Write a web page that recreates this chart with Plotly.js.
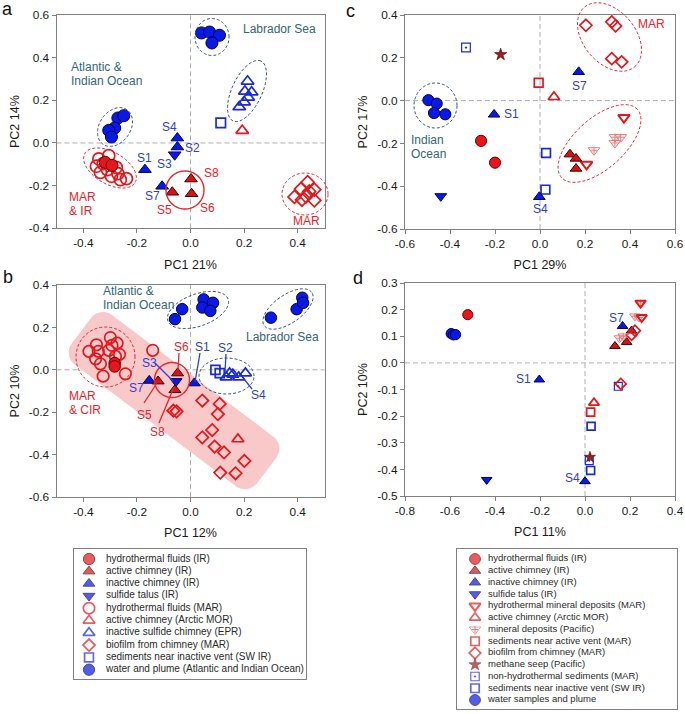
<!DOCTYPE html>
<html><head><meta charset="utf-8">
<script src="https://cdn.plot.ly/plotly-3.0.1.min.js"></script>
<style>html,body{margin:0;padding:0;background:#fff}#chart{width:685px;height:714px}</style>
</head><body><div id="chart"></div>
<script>
const W = 685, H = 714;
const FONT = 'Liberation Sans, Arial, Helvetica, sans-serif';

// ---------------- DATA : panel a ----------------
const a_fluidsIR_x = [-0.318, -0.293];
const a_fluidsIR_y = [-0.091, -0.105];
const a_activeIR_x = [0.002, -0.068, 0.004];
const a_activeIR_y = [-0.169, -0.231, -0.238];
const a_inactiveIR_x = [-0.049, -0.049, -0.170, -0.106];
const a_inactiveIR_y = [0.023, -0.019, -0.125, -0.203];
const a_talusIR_x = [-0.059];
const a_talusIR_y = [-0.055];
const a_fluidsMAR_x = [-0.342, -0.305, -0.351, -0.326, -0.310, -0.277, -0.336, -0.295, -0.262, -0.239, -0.271];
const a_fluidsMAR_y = [-0.075, -0.059, -0.109, -0.097, -0.125, -0.114, -0.138, -0.156, -0.172, -0.167, -0.144];
const a_activeArctic_x = [0.193];
const a_activeArctic_y = [0.058];
const a_inactiveEPR_x = [0.213, 0.203, 0.228, 0.215, 0.200, 0.182];
const a_inactiveEPR_y = [0.289, 0.242, 0.238, 0.214, 0.192, 0.169];
const a_biofilm_x = [0.437, 0.412, 0.462, 0.388, 0.431, 0.462, 0.416, 0.443];
const a_biofilm_y = [-0.184, -0.216, -0.219, -0.253, -0.250, -0.269, -0.266, -0.227];
const a_sedInactive_x = [0.113];
const a_sedInactive_y = [0.094];
const a_water_x = [0.041, 0.071, 0.108, 0.080, -0.271, -0.249, -0.283, -0.305, -0.295];
const a_water_y = [0.516, 0.520, 0.505, 0.469, 0.117, 0.128, 0.070, 0.059, 0.028];

// ---------------- DATA : panel b ----------------
const b_fluidsIR_x = [-0.283, -0.283];
const b_fluidsIR_y = [0.032, 0.016];
const b_activeIR_x = [-0.121, -0.048, -0.058];
const b_activeIR_y = [-0.054, -0.016, -0.095];
const b_inactiveIR_x = [-0.154, 0.014];
const b_inactiveIR_y = [-0.051, -0.063];
const b_talusIR_x = [-0.054];
const b_talusIR_y = [-0.054];
const b_fluidsMAR_x = [-0.379, -0.351, -0.299, -0.274, -0.305, -0.344, -0.354, -0.336, -0.280, -0.265, -0.243, -0.326, -0.293, -0.141];
const b_fluidsMAR_y = [0.087, 0.118, 0.152, 0.126, 0.092, 0.087, 0.052, 0.028, 0.063, 0.073, -0.019, -0.030, 0.115, 0.092];
const b_activeArctic_x = [0.177];
const b_activeArctic_y = [-0.327];
const b_inactiveEPR_x = [0.133, 0.158, 0.180, 0.205, 0.146];
const b_inactiveEPR_y = [-0.035, -0.022, -0.035, -0.016, -0.016];
const b_biofilm_x = [0.044, 0.109, 0.102, -0.064, -0.052, 0.081, 0.044, 0.090, 0.125, 0.201, 0.111, 0.168];
const b_biofilm_y = [-0.145, -0.161, -0.209, -0.193, -0.196, -0.284, -0.319, -0.362, -0.390, -0.430, -0.485, -0.488];
const b_sedInactive_x = [0.093, 0.109];
const b_sedInactive_y = [0.000, -0.016];
const b_water_x = [-0.031, -0.058, 0.049, 0.084, 0.044, 0.074, 0.300, 0.396, 0.417, 0.420];
const b_water_y = [0.286, 0.239, 0.332, 0.316, 0.294, 0.278, 0.246, 0.286, 0.340, 0.316];

// ---------------- DATA : panel c ----------------
const c_fluidsIR_x = [-0.262, -0.200];
const c_fluidsIR_y = [-0.188, -0.290];
const c_activeIR_x = [0.133, 0.160, 0.160];
const c_activeIR_y = [-0.251, -0.271, -0.318];
const c_inactiveIR_x = [-0.204, 0.172, -0.003];
const c_inactiveIR_y = [-0.065, 0.134, -0.450];
const c_talusIR_x = [-0.441];
const c_talusIR_y = [-0.447];
const c_mineralMAR_x = [0.207, 0.373];
const c_mineralMAR_y = [-0.298, -0.079];
const c_activeArctic_x = [0.062];
const c_activeArctic_y = [0.017];
const c_mineralPac_x = [0.240, 0.333, 0.359, 0.333];
const c_mineralPac_y = [-0.232, -0.171, -0.171, -0.198];
const c_sedActive_x = [-0.006];
const c_sedActive_y = [0.083];
const c_biofilm_x = [0.204, 0.319, 0.336, 0.319, 0.363];
const c_biofilm_y = [0.352, 0.368, 0.349, 0.196, 0.181];
const c_seep_x = [-0.175];
const c_seep_y = [0.215];
const c_nonHydro_x = [-0.329];
const c_nonHydro_y = [0.248];
const c_sedInactive_x = [0.027, 0.024];
const c_sedInactive_y = [-0.245, -0.416];
const c_water_x = [-0.496, -0.459, -0.471, -0.421];
const c_water_y = [0.002, -0.014, -0.058, -0.064];

// ---------------- DATA : panel d ----------------
const d_fluidsIR_x = [-0.521];
const d_fluidsIR_y = [0.181];
const d_activeIR_x = [0.133, 0.185, 0.207];
const d_activeIR_y = [0.063, 0.078, 0.121];
const d_inactiveIR_x = [-0.203, 0.167, 0.000];
const d_inactiveIR_y = [-0.063, 0.138, -0.445];
const d_talusIR_x = [-0.437];
const d_talusIR_y = [-0.439];
const d_mineralMAR_x = [0.252, 0.247];
const d_mineralMAR_y = [0.171, 0.225];
const d_activeArctic_x = [0.040];
const d_activeArctic_y = [-0.150];
const d_mineralPac_x = [0.247, 0.240, 0.222, 0.153, 0.170];
const d_mineralPac_y = [0.225, 0.171, 0.175, 0.093, 0.100];
const d_sedActive_x = [0.025];
const d_sedActive_y = [-0.185];
const d_biofilm_x = [0.159, 0.222, 0.207];
const d_biofilm_y = [-0.079, 0.121, 0.105];
const d_seep_x = [0.022];
const d_seep_y = [-0.354];
const d_nonHydro_x = [0.148, 0.019];
const d_nonHydro_y = [-0.088, -0.367];
const d_sedInactive_x = [0.027, 0.025];
const d_sedInactive_y = [-0.238, -0.404];
const d_water_x = [-0.595, -0.585, -0.575];
const d_water_y = [0.110, 0.105, 0.106];

// ---------------- ticks / titles ----------------
const a_xticks = [-0.4, -0.2, 0, 0.2, 0.4];
const a_yticks = [-0.4, -0.2, 0, 0.2, 0.4, 0.6];
const b_xticks = [-0.4, -0.2, 0, 0.2, 0.4];
const b_yticks = [-0.6, -0.4, -0.2, 0, 0.2, 0.4];
const c_xticks = [-0.6, -0.4, -0.2, 0, 0.2, 0.4, 0.6];
const c_yticks = [-0.6, -0.4, -0.2, 0, 0.2, 0.4];
const d_xticks = [-0.8, -0.6, -0.4, -0.2, 0, 0.2, 0.4];
const d_yticks = [-0.5, -0.4, -0.3, -0.2, -0.1, 0, 0.1, 0.2, 0.3];
const xTitles = ['PC1 21%', 'PC1 12%', 'PC1 29%', 'PC1 11%'];
const yTitles = ['PC2 14%', 'PC2 10%', 'PC2 17%', 'PC2 10%'];

// ---------------- legends ----------------
const legendAB_keys = ['fluidsIR','activeIR','inactiveIR','talusIR','fluidsMAR','activeArctic','inactiveEPR','biofilm','sedInactive','water'];
const legendAB_labels = ['hydrothermal fluids (IR)','active chimney (IR)','inactive chimney (IR)','sulfide talus (IR)','hydrothermal fluids (MAR)','active chimney (Arctic MOR)','inactive sulfide chimney (EPR)','biofilm from chimney (MAR)','sediments near inactive vent (SW IR)','water and plume (Atlantic and Indian Ocean)'];
const legendCD_keys = ['fluidsIR','activeIR','inactiveIR','talusIR','mineralMAR','activeArctic','mineralPac','sedActive','biofilm','seep','nonHydro','sedInactive','water'];
const legendCD_labels = ['hydrothermal fluids (IR)','active chimney (IR)','inactive chimney (IR)','sulfide talus (IR)','hydrothermal mineral deposits (MAR)','active chimney (Arctic MOR)','mineral deposits (Pacific)','sediments near active vent (MAR)','biofilm from chimney (MAR)','methane seep (Pacific)','non-hydrothermal sediments (MAR)','sediments near inactive vent (SW IR)','water samples and plume'];

// ---------------- styles ----------------
const RED = '#e5161d', RED_D = '#6a0000', BLUE = '#0a1ae2', BLUE_D = '#00005c';
const REDO = '#e3171e', BLUEO = '#1a2bd6', PINKO = '#ee7878', STARC = '#a31c1c';
const TEAL = '#346679', REDT = '#e8242c', BLUET = '#2d3fd4';
const STYLE = {
  fluidsIR:     {symbol:'circle', shape:'circle', color:RED, lc:RED_D, lw:1},
  activeIR:     {symbol:'triangle-up', shape:'tri', color:'#d5131a', lc:'#3c0000', lw:1},
  inactiveIR:   {symbol:'triangle-up', shape:'tri', color:BLUE, lc:BLUE_D, lw:1},
  talusIR:      {symbol:'triangle-down', shape:'tri', color:BLUE, lc:BLUE_D, lw:1},
  fluidsMAR:    {symbol:'circle-open', shape:'circle', color:REDO, lc:REDO, lw:1.7},
  activeArctic: {symbol:'triangle-up-open', shape:'tri', color:REDO, lc:REDO, lw:1.7},
  inactiveEPR:  {symbol:'triangle-up-open', shape:'tri', color:BLUEO, lc:BLUEO, lw:1.7},
  biofilm:      {symbol:'diamond-open', shape:'diamond', color:REDO, lc:REDO, lw:1.7},
  sedInactive:  {symbol:'square-open', shape:'square', color:BLUEO, lc:BLUEO, lw:1.7},
  water:        {symbol:'circle', shape:'circle', color:BLUE, lc:BLUE_D, lw:1},
  mineralMAR:   {symbol:'triangle-down-open', shape:'tri', color:REDO, lc:REDO, lw:2},
  mineralPac:   {symbol:'triangle-down-open', shape:'tri', color:PINKO, lc:PINKO, lw:1},
  sedActive:    {symbol:'square-open', shape:'square', color:REDO, lc:REDO, lw:1.7},
  seep:         {symbol:'star', shape:'star', color:STARC, lc:'#4a0000', lw:0.6},
  nonHydro:     {symbol:'square-open-dot', shape:'square', color:BLUEO, lc:BLUEO, lw:1.2}
};
const BASE = {circle:11.5, tri:10.5, diamond:9.5, square:9, star:9.5};

// ---------------- panel geometry (pixels) ----------------
const PANELS = {
  a:{xa:'x',  ya:'y',  px:[56.5,324.5], py:[15,228.3], xr:[-0.5,0.5], yr:[-0.4,0.6], xt:a_xticks, yt:a_yticks, scale:1.05},
  b:{xa:'x2', ya:'y2', px:[56.5,324.5], py:[285,497],  xr:[-0.5,0.5], yr:[-0.6,0.4], xt:b_xticks, yt:b_yticks, scale:1.0},
  c:{xa:'x3', ya:'y3', px:[405,675],    py:[15,229],   xr:[-0.6,0.6], yr:[-0.6,0.4], xt:c_xticks, yt:c_yticks, scale:0.97},
  d:{xa:'x4', ya:'y4', px:[405,675],    py:[283,496],  xr:[-0.8,0.4], yr:[-0.5,0.3], xt:d_xticks, yt:d_yticks, scale:0.88}
};
const SERIES = {
  a: [['water',a_water_x,a_water_y],['fluidsMAR',a_fluidsMAR_x,a_fluidsMAR_y],['fluidsIR',a_fluidsIR_x,a_fluidsIR_y],['inactiveEPR',a_inactiveEPR_x,a_inactiveEPR_y],['sedInactive',a_sedInactive_x,a_sedInactive_y],['activeArctic',a_activeArctic_x,a_activeArctic_y],['biofilm',a_biofilm_x,a_biofilm_y],['inactiveIR',a_inactiveIR_x,a_inactiveIR_y],['talusIR',a_talusIR_x,a_talusIR_y],['activeIR',a_activeIR_x,a_activeIR_y]],
  b: [['water',b_water_x,b_water_y],['fluidsMAR',b_fluidsMAR_x,b_fluidsMAR_y],['fluidsIR',b_fluidsIR_x,b_fluidsIR_y],['inactiveEPR',b_inactiveEPR_x,b_inactiveEPR_y],['sedInactive',b_sedInactive_x,b_sedInactive_y],['activeArctic',b_activeArctic_x,b_activeArctic_y],['biofilm',b_biofilm_x,b_biofilm_y],['inactiveIR',b_inactiveIR_x,b_inactiveIR_y],['talusIR',b_talusIR_x,b_talusIR_y],['activeIR',b_activeIR_x,b_activeIR_y]],
  c: [['water',c_water_x,c_water_y],['biofilm',c_biofilm_x,c_biofilm_y],['mineralPac',c_mineralPac_x,c_mineralPac_y],['mineralMAR',c_mineralMAR_x,c_mineralMAR_y],['activeArctic',c_activeArctic_x,c_activeArctic_y],['sedActive',c_sedActive_x,c_sedActive_y],['sedInactive',c_sedInactive_x,c_sedInactive_y],['nonHydro',c_nonHydro_x,c_nonHydro_y],['seep',c_seep_x,c_seep_y],['fluidsIR',c_fluidsIR_x,c_fluidsIR_y],['activeIR',c_activeIR_x,c_activeIR_y],['talusIR',c_talusIR_x,c_talusIR_y],['inactiveIR',c_inactiveIR_x,c_inactiveIR_y]],
  d: [['water',d_water_x,d_water_y],['fluidsIR',d_fluidsIR_x,d_fluidsIR_y],['sedActive',d_sedActive_x,d_sedActive_y],['activeArctic',d_activeArctic_x,d_activeArctic_y],['sedInactive',d_sedInactive_x,d_sedInactive_y],['nonHydro',d_nonHydro_x,d_nonHydro_y],['seep',d_seep_x,d_seep_y],['activeIR',d_activeIR_x,d_activeIR_y],['inactiveIR',d_inactiveIR_x,d_inactiveIR_y],['biofilm',d_biofilm_x,d_biofilm_y],['mineralPac',d_mineralPac_x,d_mineralPac_y],['mineralMAR',d_mineralMAR_x,d_mineralMAR_y],['talusIR',d_talusIR_x,d_talusIR_y]]
};

const fx = v => v / W, fy = v => 1 - v / H;
function marker(key, scale) {
  const s = STYLE[key];
  return {symbol: s.symbol, size: BASE[s.shape] * scale, color: s.color, line: {color: s.lc, width: s.lw}};
}

const traces = [];
const layout = {
  width: W, height: H, margin: {l:0, r:0, t:0, b:0},
  paper_bgcolor: '#fff', plot_bgcolor: '#fff', showlegend: false,
  font: {family: FONT, color: '#1a1a1a'},
  shapes: [], annotations: []
};

const keysP = ['a','b','c','d'];
keysP.forEach((k, i) => {
  const P = PANELS[k];
  const xn = i === 0 ? 'xaxis' : 'xaxis' + (i + 1), yn = i === 0 ? 'yaxis' : 'yaxis' + (i + 1);
  const common = {showline:true, mirror:true, linecolor:'#808080', linewidth:1, ticks:'outside', ticklen:4,
    tickcolor:'#808080', showgrid:false, zeroline:false, tickmode:'array', fixedrange:true,
    tickfont:{size:11.8, color:'#1a1a1a', family:FONT}};
  layout[xn] = Object.assign({}, common, {domain:[fx(P.px[0]), fx(P.px[1])], range:P.xr, anchor:P.ya,
    tickvals:P.xt, ticktext:P.xt.map(v => v.toFixed(1)),
    title:{text:xTitles[i], font:{size:12.5, family:FONT, color:'#1a1a1a'}, standoff:10}});
  layout[yn] = Object.assign({}, common, {domain:[fy(P.py[1]), fy(P.py[0])], range:P.yr, anchor:P.xa,
    tickvals:P.yt, ticktext:P.yt.map(v => v.toFixed(1)),
    title:{text:yTitles[i], font:{size:12.5, family:FONT, color:'#1a1a1a'}, standoff:6}});
  // dashed zero lines
  layout.shapes.push({type:'line', xref:P.xa, yref:P.ya + ' domain', x0:0, x1:0, y0:0, y1:1, line:{color:'#b0b0b0', width:1, dash:'5px,3px'}, layer:'below'});
  layout.shapes.push({type:'line', xref:P.xa + ' domain', yref:P.ya, x0:0, x1:1, y0:0, y1:0, line:{color:'#b0b0b0', width:1, dash:'5px,3px'}, layer:'below'});
  SERIES[k].forEach(([key, xs, ys]) => {
    traces.push({type:'scatter', mode:'markers', x:xs, y:ys, xaxis:P.xa, yaxis:P.ya, marker:marker(key, P.scale), cliponaxis:false, hoverinfo:'skip'});
    if (key === 'mineralPac') {
      traces.push({type:'scatter', mode:'markers', x:xs, y:ys, xaxis:P.xa, yaxis:P.ya, cliponaxis:false, hoverinfo:'skip',
        marker:{symbol:'cross-thin-open', size:BASE.tri * P.scale * 0.5, color:PINKO, line:{width:1, color:PINKO}}});
    }
  });
});

// ---------------- legends (drawn on hidden axes, rows by index) ----------------
function buildLegend(idx, keys, labels, box, markX, textX, rowTop, rowStep, fsize, scale) {
  const xn = 'xaxis' + idx, yn = 'yaxis' + idx, xa = 'x' + idx, ya = 'y' + idx;
  const hgt = box[3] - box[1];
  layout[xn] = {domain:[fx(box[0]), fx(box[2])], range:[0, box[2] - box[0]], anchor:ya, showline:true, mirror:true,
    linecolor:'#808080', linewidth:1, ticks:'', showticklabels:false, showgrid:false, zeroline:false, fixedrange:true};
  layout[yn] = {domain:[fy(box[3]), fy(box[1])], range:[(hgt - rowTop) / rowStep, -rowTop / rowStep], anchor:xa, showline:true, mirror:true,
    linecolor:'#808080', linewidth:1, ticks:'', showticklabels:false, showgrid:false, zeroline:false, fixedrange:true};
  const rows = keys.map((_, i) => i);
  const ms = keys.map(k => marker(k, scale));
  traces.push({type:'scatter', mode:'markers', x:rows.map(() => markX), y:rows, xaxis:xa, yaxis:ya, cliponaxis:false, hoverinfo:'skip',
    marker:{symbol:ms.map(m => m.symbol), size:ms.map(m => m.size), color:ms.map(m => m.color),
      line:{color:ms.map(m => m.line.color), width:ms.map(m => m.line.width)}}});
  const pac = keys.indexOf('mineralPac');
  if (pac >= 0) traces.push({type:'scatter', mode:'markers', x:[markX], y:[pac], xaxis:xa, yaxis:ya, cliponaxis:false, hoverinfo:'skip',
    marker:{symbol:'cross-thin-open', size:BASE.tri * scale * 0.5, color:PINKO, line:{width:1, color:PINKO}}});
  traces.push({type:'scatter', mode:'text', x:rows.map(() => textX), y:rows, text:labels, textposition:'middle right',
    xaxis:xa, yaxis:ya, cliponaxis:false, hoverinfo:'skip', textfont:{size:fsize, family:FONT, color:'#2a2a2a'}});
}
buildLegend(5, legendAB_keys, legendAB_labels, [74, 549, 306, 679], 15, 32, 10, 12.3, 10, 0.98);
buildLegend(6, legendCD_keys, legendCD_labels, [457, 549, 677, 709], 18, 31, 10, 11.75, 9.5, 0.94);

// ---------------- decorations: ellipses, circles, callouts (pixel space) ----------------
function ellipsePath(cx, cy, a, b, ang) {
  const t = ang * Math.PI / 180; let d = '';
  for (let k = 0; k <= 90; k++) {
    const th = 2 * Math.PI * k / 90, ex = a * Math.cos(th), ey = b * Math.sin(th);
    const X = cx + ex * Math.cos(t) - ey * Math.sin(t);
    const Y = cy - (ex * Math.sin(t) + ey * Math.cos(t));
    d += (k ? 'L' : 'M') + fx(X).toFixed(5) + ',' + fy(Y).toFixed(5);
  }
  return d + 'Z';
}
const DASHB = '#32507c';
const ELLIPSES = [
  // panel a
  [212, 37, 17, 18.5, 0, DASHB, 'dash'], [247, 91, 33, 15, 65, DASHB, 'dash'], [115, 127, 21, 15.5, 55, DASHB, 'dash'],
  [110, 168, 29, 16, -30, REDT, 'dash'], [305, 194, 23, 21, 0, REDT, 'dash'], [185, 190, 19, 19, 0, REDT, 'solid'],
  // panel b
  [198, 310, 32, 16, 20, DASHB, 'dash'], [288, 309, 29, 14, 35, DASHB, 'dash'], [105.5, 357, 29.5, 30, 0, REDT, 'dash'],
  [226.5, 376, 27.5, 18, 0, DASHB, 'dash'], [172, 380, 17.5, 17.5, 0, REDT, 'solid'],
  // panel c
  [435.5, 105.5, 21.5, 22.5, 0, DASHB, 'dash'], [609.5, 37, 39, 26, -50, REDT, 'dash'], [599.5, 143.5, 51, 25, 42, REDT, 'dash']
];
ELLIPSES.forEach(e => layout.shapes.push({type:'path', xref:'paper', yref:'paper', path:ellipsePath(e[0], e[1], e[2], e[3], e[4]),
  line:{color:e[5], width:e[6] === 'solid' ? 1.4 : 1, dash:e[6] === 'solid' ? 'solid' : '3px,2px'}, fillcolor:'rgba(0,0,0,0)'}));

const CALLOUTS = [
  [155, 363, 173, 381, BLUET], [179, 353, 178, 370, REDT], [200, 353, 195, 382, BLUET], [226, 354, 225, 372, BLUET],
  [252, 389, 244, 379, BLUET], [144, 403, 157, 383, REDT], [159, 423, 174, 387, REDT]
];
CALLOUTS.forEach(c => layout.shapes.push({type:'line', xref:'paper', yref:'paper', x0:fx(c[0]), y0:fy(c[1]), x1:fx(c[2]), y1:fy(c[3]), line:{color:c[4], width:1.3}}));

// pink band in panel b (rounded, rotated rectangle), clipped to the panel
(function () {
  const P = PANELS.b;
  const toX = px => P.xr[0] + (px - P.px[0]) / (P.px[1] - P.px[0]) * (P.xr[1] - P.xr[0]);
  const toY = py => P.yr[1] - (py - P.py[0]) / (P.py[1] - P.py[0]) * (P.yr[1] - P.yr[0]);
  const cx = 174, cy = 400.6, L = 232, Wd = 62, R = 15, ang = 37 * Math.PI / 180;
  const ux = Math.cos(ang), uy = Math.sin(ang), nx = -Math.sin(ang), ny = Math.cos(ang);
  const corners = [[L/2 - R, Wd/2 - R, 0], [-L/2 + R, Wd/2 - R, 90], [-L/2 + R, -Wd/2 + R, 180], [L/2 - R, -Wd/2 + R, 270]];
  let d = '', first = true;
  corners.forEach(([lx, ly, a0]) => {
    for (let k = 0; k <= 8; k++) {
      const th = (a0 + k * 90 / 8) * Math.PI / 180;
      const X = lx + R * Math.cos(th), Y = ly + R * Math.sin(th);
      const px = cx + X * ux + Y * nx, py = cy + X * uy + Y * ny;
      d += (first ? 'M' : 'L') + toX(px).toFixed(5) + ',' + toY(py).toFixed(5); first = false;
    }
  });
  layout.shapes.push({type:'path', xref:'x2', yref:'y2', path:d + 'Z', fillcolor:'#f9c8c8', line:{width:0}, layer:'below'});
})();

// ---------------- text labels ----------------
const LABELS = [
  ['a', 7, 9, '#111', 'center', 18], ['b', 8, 277.5, '#111', 'center', 18], ['c', 350, 11, '#111', 'center', 18], ['d', 358, 278, '#111', 'center', 18],
  ['Labrador Sea', 279, 29, TEAL, 'center', 12], ['Atlantic &amp;', 69, 67, TEAL, 'left', 12], ['Indian Ocean', 69, 80.5, TEAL, 'left', 12],
  ['MAR', 67, 197, REDT, 'left', 12], ['&amp; IR', 67, 211, REDT, 'left', 12], ['MAR', 306, 221, REDT, 'center', 12],
  ['S4', 169, 127, BLUET, 'center', 12], ['S2', 192, 148, BLUET, 'center', 12], ['S3', 164, 164, BLUET, 'center', 12],
  ['S1', 144, 158, BLUET, 'center', 12], ['S7', 152, 196, BLUET, 'center', 12], ['S8', 211, 173, REDT, 'center', 12],
  ['S5', 164, 210, REDT, 'center', 12], ['S6', 207, 208, REDT, 'center', 12],
  ['Atlantic &amp;', 101, 291, TEAL, 'left', 12], ['Indian Ocean', 101, 305, TEAL, 'left', 12], ['Labrador Sea', 282, 337, TEAL, 'center', 12],
  ['MAR', 67, 396, REDT, 'left', 12], ['&amp; CIR', 67, 410, REDT, 'left', 12],
  ['S6', 181, 347, REDT, 'center', 12], ['S1', 202, 347, BLUET, 'center', 12], ['S2', 226, 348, BLUET, 'center', 12],
  ['S3', 149, 363, BLUET, 'center', 12], ['S7', 136, 388, BLUET, 'center', 12], ['S4', 258, 395, BLUET, 'center', 12],
  ['S5', 144, 415, REDT, 'center', 12], ['S8', 157, 432, REDT, 'center', 12],
  ['MAR', 651, 24, REDT, 'center', 12], ['Indian', 409, 140, TEAL, 'left', 12], ['Ocean', 409, 154, TEAL, 'left', 12],
  ['S1', 512, 114, BLUET, 'center', 12], ['S7', 579, 86, BLUET, 'center', 12], ['S4', 540, 209, BLUET, 'center', 12],
  ['S7', 616, 318, BLUET, 'center', 12], ['S1', 523, 379, BLUET, 'center', 12], ['S4', 572, 478, BLUET, 'center', 12]
];
LABELS.forEach(l => layout.annotations.push({text:l[0], xref:'paper', yref:'paper', x:fx(l[1]), y:fy(l[2]), xanchor:l[4], yanchor:'middle',
  showarrow:false, font:{family:FONT, size:l[5], color:l[3]}}));

Plotly.newPlot('chart', traces, layout, {displayModeBar:false, staticPlot:true});
</script>
</body></html>
